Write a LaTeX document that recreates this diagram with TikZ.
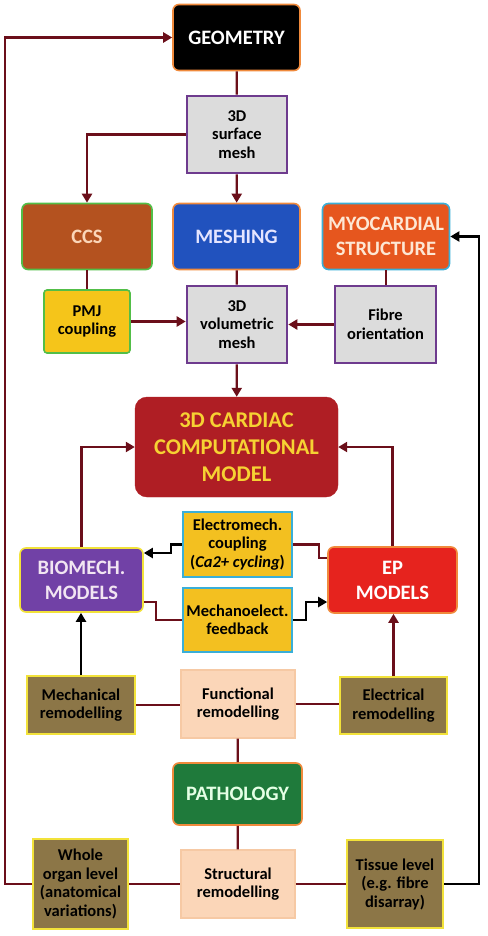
\documentclass[tikz,border=0pt]{standalone}
\usepackage{fontspec}
\setmainfont{Carlito}
\usetikzlibrary{arrows.meta}
\definecolor{conn}{HTML}{6B0F1A}
\definecolor{orng}{HTML}{F08A3C}
\definecolor{grn}{HTML}{52BE48}
\definecolor{cyn}{HTML}{3AAFD8}
\definecolor{purp}{HTML}{6E3B8E}
\definecolor{ylw}{HTML}{F2E23A}
\definecolor{ccsfill}{HTML}{B4521F}
\definecolor{meshfill}{HTML}{2152BE}
\definecolor{myofill}{HTML}{E6561E}
\definecolor{grayfill}{HTML}{DCDCDC}
\definecolor{pmjfill}{HTML}{F5C51A}
\definecolor{cardfill}{HTML}{AF1E24}
\definecolor{cardtext}{HTML}{F6D233}
\definecolor{bgold}{HTML}{F3C020}
\definecolor{biofill}{HTML}{7141A6}
\definecolor{epfill}{HTML}{E6231E}
\definecolor{olive}{HTML}{8C7647}
\definecolor{peach}{HTML}{FBD6B8}
\definecolor{peachb}{HTML}{F6C9A4}
\definecolor{pathfill}{HTML}{1F7A3B}
\tikzset{
  base/.style={inner sep=0pt, align=center, font=\bfseries},
  bigbox/.style={base, rounded corners=6pt, line width=1.6pt, font=\bfseries\fontsize{20.5}{25}\selectfont, minimum width=127pt, minimum height=66pt},
  graybox/.style={base, fill=grayfill, draw=purp, line width=2.6pt, font=\bfseries\fontsize{16.5}{18.5}\selectfont, minimum width=100pt, minimum height=77pt},
  smallbox/.style={base, line width=1.6pt, font=\bfseries\fontsize{16.5}{18.5}\selectfont},
  oldbox/.style={smallbox, fill=olive, draw=ylw, line width=2pt},
  peachbox/.style={smallbox, fill=peach, draw=peachb, line width=1.2pt, minimum width=114pt, minimum height=68pt},
  cline/.style={draw=conn, line width=2.2pt},
  arr/.style={cline, -{Triangle[length=9pt,width=10pt]}},
  barr/.style={draw=black, line width=2.2pt, -{Triangle[length=9pt,width=10pt]}},
}
\begin{document}
\begin{tikzpicture}[x=1pt,y=-1pt]
\useasboundingbox (0,0) rectangle (487,936);
% top
\node[bigbox, fill=black, draw=orng, text=white] (geom) at (236.5,37.5) {GEOMETRY};
\node[graybox] (surf) at (237,134.5) {3D\\surface\\mesh};
\node[bigbox, fill=ccsfill, draw=grn, text=peach, minimum width=130pt] (ccs) at (87,236.5) {CCS};
\node[bigbox, fill=meshfill, draw=orng, text=white!90!blue] (mesh) at (236.5,236.5) {MESHING};
\node[bigbox, fill=myofill, draw=cyn, text=peach!60!white] (myo) at (386,236.5) {MYOCARDIAL\\STRUCTURE};
\node[smallbox, fill=pmjfill, draw=grn, rounded corners=3pt, minimum width=86pt, minimum height=63pt] (pmj) at (87,321.5) {PMJ\\coupling};
\node[graybox] (vol) at (237,324.5) {3D\\volumetric\\mesh};
\node[graybox, minimum width=101pt] (fib) at (385.5,324.5) {Fibre\\orientation};
% model
\node[base, fill=cardfill, draw=cardfill, rounded corners=12pt, minimum width=203pt, minimum height=100pt, text=cardtext, font=\bfseries\fontsize{22.5}{27}\selectfont] (card) at (236.5,447) {3D CARDIAC\\COMPUTATIONAL\\MODEL};
\node[smallbox, fill=bgold, draw=cyn, minimum width=109pt, minimum height=65pt] (em) at (237.5,544.5) {Electromech.\\coupling\\(\textit{Ca2+ cycling})};
\node[bigbox, fill=biofill, draw=ylw, text=white!90!violet, minimum width=123pt, minimum height=64pt] (bio) at (81.5,580) {BIOMECH.\\MODELS};
\node[bigbox, fill=epfill, draw=orng, text=white, minimum width=129pt, minimum height=66pt] (ep) at (392.5,580) {EP\\MODELS};
\node[smallbox, fill=bgold, draw=cyn, minimum width=109pt, minimum height=64pt] (mech) at (237.5,620) {Mechanoelect.\\feedback};
% remodelling
\node[oldbox, minimum width=108pt, minimum height=58pt] (mrem) at (81,705) {Mechanical\\remodelling};
\node[peachbox] (frem) at (238,704) {Functional\\remodelling};
\node[oldbox, minimum width=107pt, minimum height=57pt] (erem) at (393.5,705.5) {Electrical\\remodelling};
\node[bigbox, fill=pathfill, draw=orng, text=white!90!green, minimum width=129pt, minimum height=62pt] (path) at (237.5,794) {PATHOLOGY};
\node[oldbox, minimum width=95pt, minimum height=90pt] (whole) at (80.5,884) {Whole\\organ level\\(anatomical\\variations)};
\node[peachbox] (srem) at (238,884) {Structural\\remodelling};
\node[oldbox, minimum width=96pt, minimum height=88pt] (tiss) at (395,884) {Tissue level\\(e.g. fibre\\disarray)};
\coordinate (lc) at (5,884);
\coordinate (rc) at (479,884);
% connectors
\draw[cline] (geom) -- (surf);
\draw[arr] (surf.west) -| (ccs.north);
\draw[arr] (surf) -- (mesh);
\draw[cline] (ccs.south -| pmj.north) -- (pmj.north);
\draw[cline] (mesh) -- (vol);
\draw[cline] (myo.south) -- (myo.south |- fib.north);
\draw[arr] (pmj.east) -- (pmj.east -| vol.west);
\draw[arr] (fib.west) -- (vol.east);
\draw[arr] (vol) -- (card);
\draw[arr] (bio.north) |- (card.west);
\draw[arr] (ep.north) |- (card.east);
\draw[barr] (em.west) -- ++(-11,0) |- ([yshift=27pt]bio.east);
\draw[cline] (em.east) -- ++(26,0) |- ([yshift=22pt]ep.west);
\draw[cline] ([yshift=-22pt]bio.east) -- ++(12,0) |- (mech.west);
\draw[barr] (mech.east) -- ++(13,0) |- ([yshift=-22pt]ep.west);
\draw[barr] (mrem.north) -- (mrem.north |- bio.south);
\draw[arr] (erem.north) -- (erem.north |- ep.south);
\draw[cline] (mrem.east) -- (mrem.east -| frem.west);
\draw[cline] (frem.east) -- (frem.east -| erem.west);
\draw[cline] (frem) -- (path);
\draw[cline] (path) -- (srem);
\draw[cline] (whole) -- (srem);
\draw[cline] (srem) -- (tiss);
\draw[arr] (whole.west) -- (lc) |- (geom.west);
\draw[barr] (tiss.east) -- (rc) |- (myo.east);
\end{tikzpicture}
\end{document}
